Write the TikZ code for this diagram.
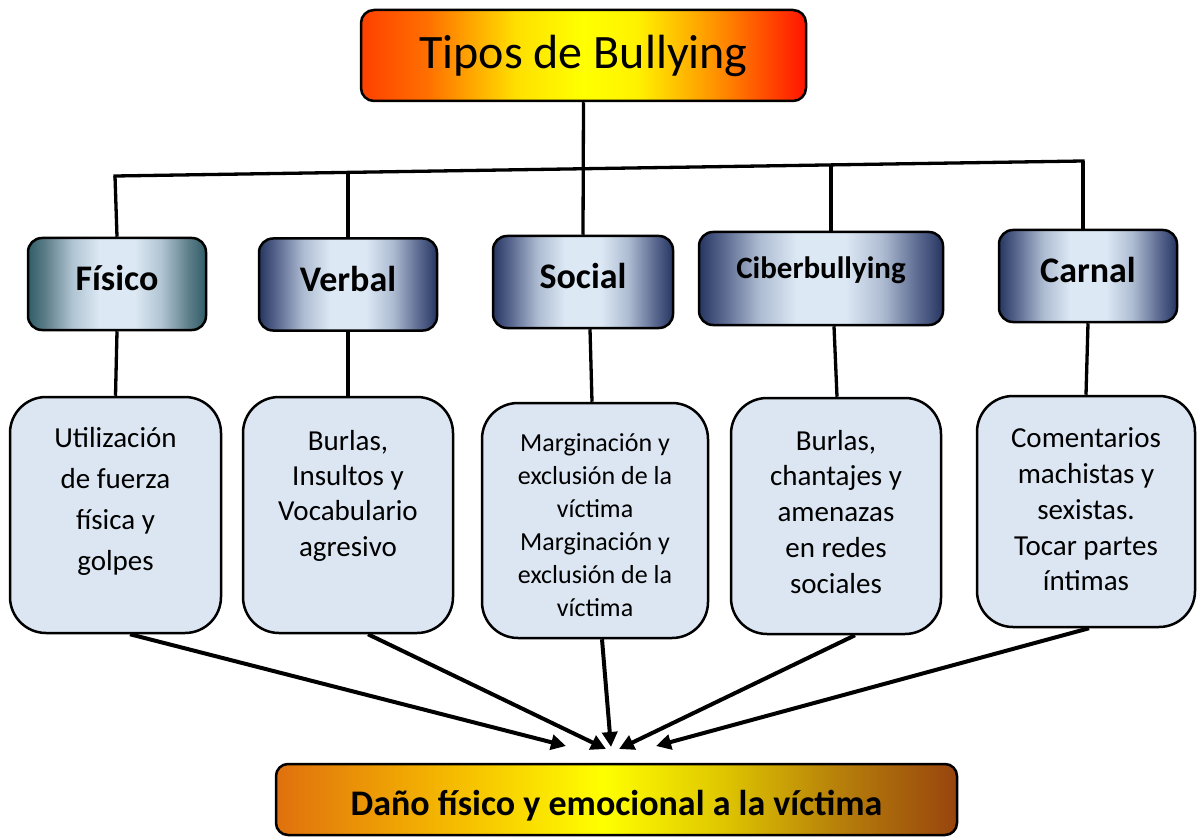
\documentclass[tikz,border=0pt]{standalone}
\usepackage{fontspec}
\setmainfont{Carlito}
\usetikzlibrary{arrows.meta,calc}
\definecolor{descfill}{HTML}{DCE6F2}
\definecolor{tA}{HTML}{FF4000}\definecolor{tB}{HTML}{FF7000}\definecolor{tC}{HTML}{FFE000}
\definecolor{tD}{HTML}{FFFF00}\definecolor{tE}{HTML}{FFF200}\definecolor{tF}{HTML}{FF9000}\definecolor{tG}{HTML}{FF1400}
\definecolor{gA}{HTML}{2F5C68}\definecolor{gB}{HTML}{5E7F8A}\definecolor{gC}{HTML}{B0C4D2}\definecolor{lite}{HTML}{DCE8F4}
\definecolor{nA}{HTML}{263660}\definecolor{nB}{HTML}{5A6890}\definecolor{nC}{HTML}{AEBCD2}
\definecolor{bA}{HTML}{E0700E}\definecolor{bB}{HTML}{F5B800}\definecolor{bC}{HTML}{FFFF00}\definecolor{bD}{HTML}{E0C800}\definecolor{bE}{HTML}{B8820A}\definecolor{bF}{HTML}{98440E}
\pgfdeclarehorizontalshading{titleshade}{100bp}{color(0bp)=(tA); color(25bp)=(tA); color(32.5bp)=(tB); color(42.5bp)=(tC); color(50bp)=(tD); color(56bp)=(tE); color(65bp)=(tF); color(75bp)=(tG); color(100bp)=(tG)}
\pgfdeclarehorizontalshading{tealshade}{100bp}{color(0bp)=(gA); color(25bp)=(gA); color(30bp)=(gB); color(37.5bp)=(gC); color(45bp)=(lite); color(55bp)=(lite); color(62.5bp)=(gC); color(70bp)=(gB); color(75bp)=(gA); color(100bp)=(gA)}
\pgfdeclarehorizontalshading{navyshade}{100bp}{color(0bp)=(nA); color(25bp)=(nA); color(30bp)=(nB); color(37.5bp)=(nC); color(45bp)=(lite); color(55bp)=(lite); color(62.5bp)=(nC); color(70bp)=(nB); color(75bp)=(nA); color(100bp)=(nA)}
\pgfdeclarehorizontalshading{bottomshade}{100bp}{color(0bp)=(bA); color(25bp)=(bA); color(37.5bp)=(bB); color(49bp)=(bC); color(57.5bp)=(bD); color(66bp)=(bE); color(75bp)=(bF); color(100bp)=(bF)}
\tikzset{
  boxbase/.style={draw=black, line width=2.5pt, inner sep=0pt},
  titlebox/.style={boxbase, rounded corners=13pt, shade, shading=titleshade, minimum width=445pt, minimum height=91pt, font=\fontsize{48}{58}\selectfont},
  catbox/.style={boxbase, rounded corners=14pt, shade, minimum height=92pt, minimum width=178pt, text height=52.5pt, text depth=39.5pt, font=\bfseries\fontsize{36}{43}\selectfont},
  descbox/.style={boxbase, rounded corners=36pt, fill=descfill, align=center},
  bottombox/.style={boxbase, rounded corners=12pt, shade, shading=bottomshade, minimum width=681pt, minimum height=71pt, text height=51pt, text depth=20pt, font=\bfseries\fontsize{36}{43}\selectfont},
  conn/.style={line width=3.3pt},
  arr/.style={line width=4pt, -{Triangle[length=15pt,width=15pt]}}
}
\begin{document}
\begin{tikzpicture}[x=1pt,y=-1pt]
\useasboundingbox (0,0) rectangle (1197,837);
% title
\node[titlebox] (title) at (583.5,55.5) {Tipos de Bullying};
% categories
\node[catbox, shading=tealshade] (fis) at (117,284) {Físico};
\node[catbox, shading=navyshade] (ver) at (348,284.5) {Verbal};
\node[catbox, shading=navyshade, minimum width=180pt] (soc) at (583,282) {Social};
\node[catbox, shading=navyshade, minimum width=244pt, text height=46pt, text depth=47pt, font=\bfseries\fontsize{31}{37}\selectfont] (cib) at (821,278.5) {Ciberbullying};
\node[catbox, shading=navyshade] (car) at (1088,276) {Carnal};
% descriptions
\node[descbox, minimum width=211pt, minimum height=236pt, font=\fontsize{29}{41}\selectfont] (d1) at (115.5,515) {Utilización\\de fuerza\\física y\\golpes\rule[-33pt]{0pt}{0pt}};
\node[descbox, minimum width=210pt, minimum height=236pt, font=\fontsize{29}{35.3}\selectfont] (d2) at (348,515) {Burlas,\\Insultos y\\Vocabulario\\agresivo\rule[-44pt]{0pt}{0pt}};
\node[descbox, minimum width=226pt, minimum height=235pt, font=\fontsize{26}{33}\selectfont] (d3) at (595,520.5) {\rule{0pt}{28pt}Marginación y\\exclusión de la\\víctima\\Marginación y\\exclusión de la\\víctima};
\node[descbox, minimum width=210pt, minimum height=236pt, font=\fontsize{29}{35.75}\selectfont] (d4) at (836,516) {Burlas,\\chantajes y\\amenazas\\en redes\\sociales\rule[-9pt]{0pt}{0pt}};
\node[descbox, minimum width=218pt, minimum height=231pt, font=\fontsize{29}{35.75}\selectfont] (d5) at (1086,511.5) {Comentarios\\machistas y\\sexistas.\\Tocar partes\\íntimas\rule[-4pt]{0pt}{0pt}};
% bottom
\node[bottombox] (dano) at (616.5,799.5) {Daño físico y emocional a la víctima};
% top connectors
\coordinate (barL) at (115,176);
\coordinate (barR) at (1083,161);
\coordinate (b2) at ($(barL)!0.2407!(barR)$);
\coordinate (b4) at ($(barL)!0.7397!(barR)$);
\draw[conn, line cap=rect] (barL) -- (barR);
\draw[conn] (title.south) -- (soc.north);
\draw[conn] (barL) -- (fis.north);
\draw[conn] (b2) -- (b2 |- ver.north);
\draw[conn] (b4) -- (b4 |- cib.north);
\draw[conn] (barR) -- (barR |- car.north);
% category to description
\draw[conn] (fis.south) -- (d1.north);
\draw[conn] (ver.south) -- (d2.north);
\draw[conn] ([xshift=7pt]soc.south) -- ([xshift=-3pt]d3.north);
\draw[conn] ([xshift=13pt]cib.south) -- ([xshift=1pt]d4.north);
\draw[conn] (car.south) -- (d5.north);
% arrows
\coordinate (t1) at (566,746);
\coordinate (t2) at (606,749);
\coordinate (t3) at (611,747);
\coordinate (t4) at (619,749);
\coordinate (t5) at (656,746);
\draw[arr] ([xshift=14.5pt]d1.south) -- (t1);
\draw[arr] ([xshift=20pt]d2.south) -- (t2);
\draw[arr] ([xshift=7pt]d3.south) -- (t3);
\draw[arr] ([xshift=19pt]d4.south) -- (t4);
\draw[arr] ([xshift=3pt]d5.south) -- (t5);
\end{tikzpicture}
\end{document}
